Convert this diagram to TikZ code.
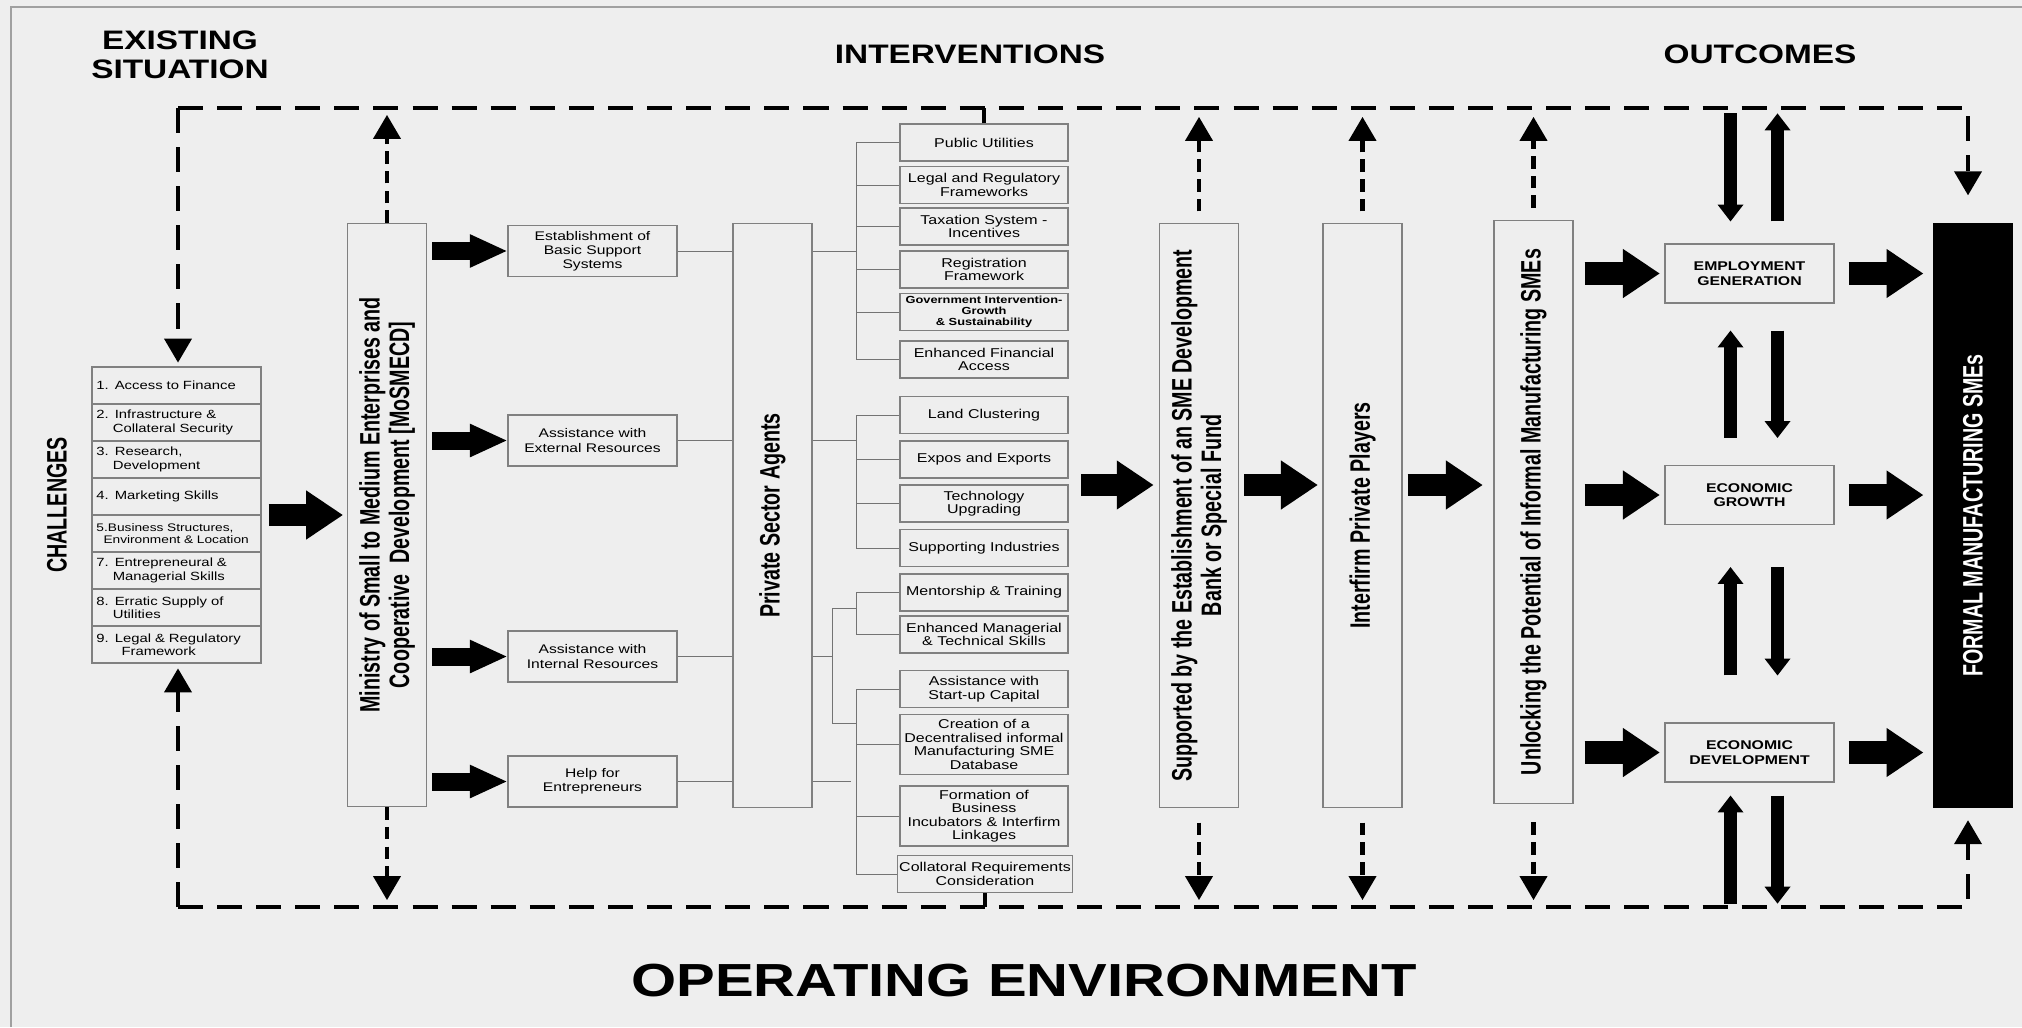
\documentclass[tikz,border=0pt]{standalone}
\usepackage{fontspec}
\setmainfont{Liberation Sans}
\newfontfamily\widesans[FakeStretch=1.25]{Liberation Sans}
\newfontfamily\narrowsans[FakeStretch=0.7]{Liberation Sans}
\usetikzlibrary{arrows.meta,calc}
\definecolor{paper}{RGB}{238,238,238}
\definecolor{edge}{RGB}{128,128,128}
\definecolor{twig}{RGB}{115,115,115}
\definecolor{rim}{RGB}{160,160,160}
\tikzset{bx/.style={draw=edge, line width=0.8pt, inner sep=1pt, align=center},
  cell/.style={bx, align=left, text width=4cm, inner xsep=0.1125cm, minimum height=0.925cm,
    font=\widesans\fontsize{8.45}{9.5}\selectfont},
  sub/.style={bx, minimum width=4.225cm, minimum height=1.275cm, font=\widesans\fontsize{8.9}{10}\selectfont},
  item/.style={bx, minimum width=4.2cm, minimum height=0.925cm, font=\widesans\fontsize{9.1}{9.6}\selectfont},
  tall/.style={bx, minimum width=1.975cm, minimum height=14.575cm},
  goal/.style={bx, minimum width=4.225cm, minimum height=1.475cm, font=\widesans\bfseries\fontsize{9}{10.4}\selectfont},
  vtext/.style={rotate=90, align=center, font=\narrowsans\bfseries\fontsize{20}{21}\selectfont},
  head/.style={align=center, font=\widesans\bfseries\fontsize{19}{20.3}\selectfont},
  twigline/.style={draw=twig, line width=0.7pt},
  bigarrow/.style={line width=16pt, -{Triangle[length=26pt, width=35pt, line width=0pt]}},
  smallarrow/.style={line width=12.8pt, -{Triangle[length=26pt, width=24pt, line width=0pt]}},
  varrow/.style={line width=9.2pt, -{Triangle[length=12pt, width=18.5pt, line width=0pt]}},
  frame/.style={line width=3.5pt, dash pattern=on 17.8pt off 10pt, -{Triangle[length=17pt, width=20pt, line width=0pt]}},
  dashpin/.style={line width=3.5pt, dash pattern=on 9pt off 5pt, -{Triangle[length=17pt, width=20pt, line width=0pt]}}}

\begin{document}
\begin{tikzpicture}[x=0.025cm, y=-0.025cm]
  \path[use as bounding box, fill=paper] (0,0) rectangle (2022,1027);
  \draw[rim, line width=1pt] (11,1027) -- (11,7) -- (2022,7);

  % column titles
  \node[head] (exist) at (180,55) {EXISTING\\SITUATION};
  \node[head] (interv) at (970,54) {INTERVENTIONS};
  \node[head] (outc) at (1760,54) {OUTCOMES};
  \node[font=\widesans\bfseries\fontsize{33}{36}\selectfont] (openv) at (1024,981) {OPERATING ENVIRONMENT};

  % challenges list
  \node[vtext] (chalhead) at (57,505) {CHALLENGES};
  \node[cell] (c1) at (176.5,385.5) {1. Access to Finance};
  \node[cell] (c2) at (176.5,422.5) {2. Infrastructure \&\\\phantom{2.\ }Collateral Security};
  \node[cell] (c3) at (176.5,459.5) {3. Research,\\\phantom{3.\ }Development};
  \node[cell] (c4) at (176.5,496.5) {4. Marketing Skills};
  \node[cell, font=\widesans\fontsize{7.8}{9}\selectfont] (c5) at (176.5,533.5) {5.Business Structures,\\\hspace*{5pt}Environment \& Location};
  \node[cell] (c6) at (176.5,570.5) {7. Entrepreneural \&\\\phantom{7.\ }Managerial Skills};
  \node[cell] (c7) at (176.5,607.5) {8. Erratic Supply of\\\phantom{8.\ }Utilities};
  \node[cell] (c8) at (176.5,644.5) {9. Legal \& Regulatory\\\hspace*{17.8pt}Framework};

  % ministry and its four areas
  \node[tall] (min) at (387,515) {};
  \node[vtext] (mintext) at ($(min)+(0,-10)$) {Ministry of Small to Medium Enterprises and\\Cooperative\ \ Development [MoSMECD]};
  \node[sub] (est) at (592.5,251) {Establishment of\\Basic Support\\Systems};
  \node[sub] (ext) at (592.5,440.5) {Assistance with\\External Resources};
  \node[sub] (int) at (592.5,656.5) {Assistance with\\Internal Resources};
  \node[sub] (help) at (592.5,781.5) {Help for\\Entrepreneurs};

  \node[tall] (psa) at (772.5,515.5) {};
  \node[vtext] (psatext) at (psa) {Private Sector Agents};

  % intervention items
  \node[item] (pu) at (984,142.5) {Public Utilities};
  \node[item] (lrf) at (984,185) {Legal and Regulatory\\Frameworks};
  \node[item] (tax) at (984,226.5) {Taxation System -\\Incentives};
  \node[item] (reg) at (984,269.5) {Registration\\Framework};
  \node[item, font=\widesans\bfseries\fontsize{7.3}{7.8}\selectfont] (gov) at (984,312) {Government Intervention-\\Growth\\\& Sustainability};
  \node[item] (efa) at (984,359.5) {Enhanced Financial\\Access};
  \node[item] (land) at (984,415) {Land Clustering};
  \node[item] (expo) at (984,459.5) {Expos and Exports};
  \node[item] (tech) at (984,503.5) {Technology\\Upgrading};
  \node[item] (supp) at (984,548) {Supporting Industries};
  \node[item] (ment) at (984,592.5) {Mentorship \& Training};
  \node[item] (ems) at (984,634.5) {Enhanced Managerial\\\& Technical Skills};
  \node[item] (start) at (984,689) {Assistance with\\Start-up Capital};
  \node[item, minimum height=1.5cm] (db) at (984,744.5) {Creation of a\\Decentralised informal\\Manufacturing SME\\Database};
  \node[item, minimum height=1.5cm] (inc) at (984,816) {Formation of\\Business\\Incubators \& Interfirm\\Linkages};
  \node[item] (coll) at (985,874) {Collatoral Requirements\\Consideration};

  % later stages
  \node[tall] (sme) at (1199,515.5) {};
  \node[vtext] (smetext) at (sme) {Supported by the Establishment of an SME Development\\Bank or Special Fund};
  \node[tall] (inter) at (1362.5,515.5) {};
  \node[vtext] (intertext) at (inter) {Interfirm Private Players};
  \node[tall] (unl) at (1533.5,512) {};
  \node[vtext] (unltext) at (unl) {Unlocking the Potential of Informal Manufacturing SMEs};

  % outcomes
  \node[goal] (emp) at (1749.5,273.5) {EMPLOYMENT\\GENERATION};
  \node[goal] (gro) at (1749.5,495) {ECONOMIC\\GROWTH};
  \node[goal] (dev) at (1749.5,752.5) {ECONOMIC\\DEVELOPMENT};
  \node[tall, fill=black, draw=black] (formal) at (1973,515.5) {};
  \node[vtext, text=white] (formaltext) at (formal) {FORMAL MANUFACTURING SMEs};

  % tree from the private sector agents
  \coordinate (bx) at (856,0);
  \coordinate (ox) at (832,0);
  \coordinate (ja) at (832,608);
  \coordinate (jb) at (832,723);
  \coordinate (loose) at (851,781.5);
  \draw[twigline] (est) -- (psa.west |- est) (ext) -- (psa.west |- ext)
    (int) -- (psa.west |- int) (help) -- (psa.west |- help);
  \draw[twigline] (psa.east |- est) -- (bx |- est) (psa.east |- ext) -- (bx |- ext)
    (psa.east |- int) -- (ox |- int) (psa.east |- help) -- (loose);
  \draw[twigline] (bx |- pu) -- (bx |- efa) (bx |- pu) -- (pu) (bx |- lrf) -- (lrf)
    (bx |- tax) -- (tax) (bx |- reg) -- (reg) (bx |- gov) -- (gov) (bx |- efa) -- (efa);
  \draw[twigline] (bx |- land) -- (bx |- supp) (bx |- land) -- (land) (bx |- expo) -- (expo)
    (bx |- tech) -- (tech) (bx |- supp) -- (supp);
  \draw[twigline] (ja) -- (jb) (ja) -- (bx |- ja) (jb) -- (bx |- jb);
  \draw[twigline] (bx |- ment) -- (bx |- ems) (bx |- ment) -- (ment) (bx |- ems) -- (ems);
  \draw[twigline] (bx |- start) -- (bx |- coll) (bx |- start) -- (start) (bx |- db) -- (db)
    (bx |- inc) -- (inc) (bx |- coll) -- (coll);

  % block arrows
  \draw[bigarrow, shorten <=5pt, shorten >=3pt] (min.west -| c4.east) -- (min.west);
  \draw[smallarrow, shorten <=3.5pt, shorten >=0.7pt] (min.east |- est) -- (est.west);
  \draw[smallarrow, shorten <=3.5pt, shorten >=0.7pt] (min.east |- ext) -- (ext.west);
  \draw[smallarrow, shorten <=3.5pt, shorten >=0.7pt] (min.east |- int) -- (int.west);
  \draw[smallarrow, shorten <=3.5pt, shorten >=0.7pt] (min.east |- help) -- (help.west);
  \coordinate (fan) at (1081,485);
  \draw[bigarrow, shorten >=4pt] (fan) -- (fan -| sme.west);
  \draw[bigarrow, shorten <=3.5pt, shorten >=3.5pt] (sme.east |- fan) -- (inter.west |- fan);
  \draw[bigarrow, shorten <=3.5pt, shorten >=7.8pt] (inter.east |- fan) -- (unl.west |- fan);
  \draw[bigarrow, shorten <=7.8pt, shorten >=3.5pt] (unl.east |- emp) -- (emp.west);
  \draw[bigarrow, shorten <=7.8pt, shorten >=3.5pt] (unl.east |- gro) -- (gro.west);
  \draw[bigarrow, shorten <=7.8pt, shorten >=3.5pt] (unl.east |- dev) -- (dev.west);
  \draw[bigarrow, shorten <=10pt, shorten >=7pt] (emp.east) -- (formal.west |- emp);
  \draw[bigarrow, shorten <=10pt, shorten >=7pt] (gro.east) -- (formal.west |- gro);
  \draw[bigarrow, shorten <=10pt, shorten >=7pt] (dev.east) -- (formal.west |- dev);

  % two-way links between outcomes
  \draw[varrow] ($(emp.north)+(-19,-130)$) -- ($(emp.north)+(-19,-22)$);
  \draw[varrow] ($(emp.north)+(28,-22)$) -- ($(emp.north)+(28,-130)$);
  \draw[varrow] ($(gro.north)+(-19,-27)$) -- ($(emp.south)+(-19,27)$);
  \draw[varrow] ($(emp.south)+(28,27)$) -- ($(gro.north)+(28,-27)$);
  \draw[varrow] ($(dev.north)+(-19,-47)$) -- ($(gro.south)+(-19,42)$);
  \draw[varrow] ($(gro.south)+(28,42)$) -- ($(dev.north)+(28,-47)$);
  \draw[varrow] ($(dev.south)+(-19,121)$) -- ($(dev.south)+(-19,13)$);
  \draw[varrow] ($(dev.south)+(28,13)$) -- ($(dev.south)+(28,121)$);

  % operating environment loop
  \coordinate (tl) at (178,108);
  \coordinate (tr) at (1968,108);
  \coordinate (bl) at (178,907);
  \coordinate (br) at (1968,907);
  \draw[frame, shorten >=2.8pt] (tl) -- (tl |- c1.north);
  \draw[frame, shorten >=20pt] (tl) -- (tr) -- (tr |- formal.north);
  \draw[frame, shorten >=3.5pt] (bl) -- (bl |- c8.south);
  \draw[frame, shorten >=9pt] (bl) -- (br) -- (br |- formal.south);
  \draw[dashpin, shorten >=5pt] (min.north) -- (min.north |- tl);
  \draw[dashpin, shorten >=5pt] (min.south) -- (min.south |- bl);
  \draw[dashpin, shorten <=8.5pt, shorten >=6.4pt] (sme.north) -- (sme.north |- tl);
  \draw[dashpin, shorten <=10.7pt, shorten >=5pt] (sme.south) -- (sme.south |- bl);
  \draw[dashpin, shorten <=8.5pt, shorten >=6.4pt] (inter.north) -- (inter.north |- tl);
  \draw[dashpin, shorten <=10.7pt, shorten >=5pt] (inter.south) -- (inter.south |- bl);
  \draw[dashpin, shorten <=8.5pt, shorten >=6.4pt] (unl.north) -- (unl.north |- tl);
  \draw[dashpin, shorten <=13pt, shorten >=5pt] (unl.south) -- (unl.south |- bl);
  \draw[line width=3pt] (pu.north) -- (pu.north |- tl);
  \draw[line width=3pt] (coll.south) -- (coll.south |- bl);
\end{tikzpicture}
\end{document}
